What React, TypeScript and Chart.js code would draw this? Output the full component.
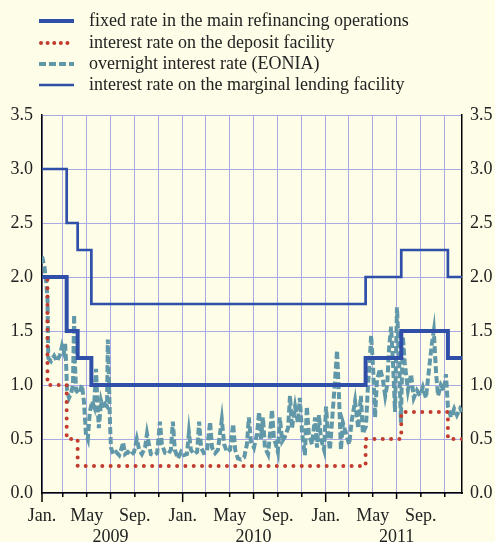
import React, { useEffect, useRef } from 'react';
import { Chart, registerables } from 'chart.js';

Chart.register(...registerables);

// ---- data (x values are days since 2009-01-01) ----
const mroDays = [6, 69, 97, 132, 832, 923, 1042, 1078];
const mroValues = [2.0, 1.5, 1.25, 1.0, 1.25, 1.5, 1.25, 1.25];

const depositDays = [6, 20, 69, 97, 832, 923, 1042, 1078];
const depositValues = [2.0, 1.0, 0.5, 0.25, 0.5, 0.75, 0.5, 0.5];

const mlfDays = [6, 69, 97, 132, 832, 923, 1042, 1078];
const mlfValues = [3.0, 2.5, 2.25, 1.75, 2.0, 2.25, 2.0, 2.0];

const eoniaDays = [
  6, 12, 17, 20, 22, 29, 37, 44, 52, 57, 62, 65, 67, 70, 75, 80, 85, 88, 90, 93,
  100, 108, 113, 118, 123, 128, 134, 139, 144, 146, 151, 157, 162, 167, 172, 174, 180, 182, 188, 195,
  203, 208, 213, 218, 225, 233, 241, 248, 254, 261, 269, 274, 279, 284, 292, 300, 307, 312, 320, 328,
  335, 340, 345, 353, 361, 368, 376, 381, 386, 394, 402, 407, 412, 419, 427, 435, 440, 448, 455, 465,
  471, 478, 486, 494, 499, 506, 514, 522, 529, 534, 539, 547, 555, 560, 565, 570, 575, 583, 588, 593,
  598, 603, 608, 613, 619, 626, 634, 639, 644, 652, 659, 664, 670, 677, 682, 687, 695, 703, 708, 713,
  718, 726, 731, 736, 741, 749, 754, 759, 764, 769, 774, 782, 790, 797, 805, 813, 820, 825, 833, 838,
  843, 846, 851, 856, 861, 869, 876, 882, 887, 892, 897, 902, 907, 912, 917, 922, 927, 932, 940, 948,
  955, 963, 971, 978, 986, 994, 1001, 1006, 1012, 1017, 1024, 1032, 1037, 1042, 1050, 1058, 1065, 1073, 1078,
];
const eoniaValues = [
  2.19, 2.1, 1.95, 1.8, 1.25, 1.22, 1.27, 1.22, 1.28, 1.36, 1.3, 1.38, 1.25, 0.95, 0.88, 0.92, 1.0, 1.65, 1.2, 0.95,
  0.92, 1.0, 0.85, 0.55, 0.5, 0.75, 0.85, 0.8, 1.15, 0.95, 0.6, 0.85, 0.78, 0.82, 0.8, 1.42, 0.6, 0.42, 0.36, 0.38,
  0.35, 0.4, 0.47, 0.36, 0.38, 0.35, 0.38, 0.5, 0.4, 0.36, 0.42, 0.55, 0.45, 0.36, 0.35, 0.37, 0.66, 0.45, 0.37, 0.36,
  0.4, 0.66, 0.4, 0.32, 0.38, 0.35, 0.36, 0.56, 0.4, 0.36, 0.38, 0.66, 0.42, 0.37, 0.38, 0.66, 0.42, 0.37, 0.4, 0.68,
  0.45, 0.38, 0.4, 0.64, 0.4, 0.32, 0.31, 0.33, 0.45, 0.7, 0.48, 0.42, 0.55, 0.75, 0.5, 0.7, 0.42, 0.36, 0.55, 0.77,
  0.5, 0.45, 0.38, 0.7, 0.48, 0.52, 0.6, 0.9, 0.6, 0.8, 0.65, 0.88, 0.55, 0.35, 0.8, 0.55, 0.45, 0.7, 0.42, 0.72,
  0.5, 0.4, 0.8, 0.55, 0.4, 0.8, 1.05, 1.32, 0.9, 0.4, 0.65, 0.55, 0.45, 0.68, 0.85, 0.6, 0.9, 0.55, 0.62, 1.0,
  1.25, 1.46, 1.17, 0.7, 1.05, 1.15, 1.05, 0.9, 1.0, 1.35, 1.54, 1.2, 0.75, 1.72, 1.3, 0.65, 1.45, 1.2, 0.95, 1.1,
  0.88, 0.95, 0.9, 0.98, 0.88, 1.15, 1.38, 1.5, 1.1, 0.9, 1.0, 0.95, 1.1, 0.8, 0.7, 0.78, 0.72, 0.78, 0.75,
];

const xTickDays = [6, 59, 120, 181, 243, 304, 365, 424, 485, 546, 608, 669, 730, 789, 850, 911, 973, 1034];
const xTickLabels = ['Jan.', '', 'May', '', 'Sep.', '', 'Jan.', '', 'May', '', 'Sep.', '', 'Jan.', '', 'May', '', 'Sep.', ''];
const yearTickDays = [181, 546, 911];
const yearLabels = ['2009', '2010', '2011'];
const janTickDays = [6, 365, 730];

const seriesLabels = [
  'fixed rate in the main refinancing operations',
  'interest rate on the deposit facility',
  'overnight interest rate (EONIA)',
  'interest rate on the marginal lending facility',
];

const FONT = '"Liberation Serif", "Times New Roman", serif';
const BG = '#fefde8';
const GRID = '#a9a9e6';
const BLUE = '#2f4fa9';
const RED = '#c23b2e';
const TEAL = '#6198a9';
const TEXT = '#222222';

const toPts = (xs: number[], ys: number[]) => xs.map((x, i) => ({ x, y: ys[i] }));

const bgPlugin = {
  id: 'bg',
  beforeDraw(chart: any) {
    const { ctx, width, height } = chart;
    ctx.save();
    ctx.fillStyle = BG;
    ctx.fillRect(0, 0, width, height);
    ctx.restore();
  },
};

const tickPlugin = {
  id: 'tickMarks',
  afterDraw(chart: any) {
    const { ctx } = chart;
    const xs = chart.scales.x;
    const bottom = chart.chartArea.bottom;
    ctx.save();
    ctx.strokeStyle = '#000';
    ctx.lineWidth = 1.5;
    xTickDays.forEach((d) => {
      const px = xs.getPixelForValue(d);
      let len = 4;
      if (janTickDays.includes(d)) len = 9;
      else if (yearTickDays.includes(d)) len = 6;
      ctx.beginPath();
      ctx.moveTo(px, bottom);
      ctx.lineTo(px, bottom + len);
      ctx.stroke();
    });
    ctx.restore();
  },
};

const legendPlugin = {
  id: 'customLegend',
  afterDraw(chart: any) {
    const { ctx } = chart;
    const rows = [21, 43, 64, 85];
    ctx.save();
    chart.data.datasets.forEach((ds: any, i: number) => {
      const y = rows[i];
      ctx.beginPath();
      ctx.strokeStyle = ds.borderColor;
      ctx.lineWidth = ds.borderWidth;
      ctx.lineCap = ds.borderCapStyle || 'butt';
      ctx.setLineDash(i === 1 ? [0.01, 6.6] : ds.borderDash || []);
      ctx.moveTo(i === 1 ? 41 : 39, y);
      ctx.lineTo(74, y);
      ctx.stroke();
      ctx.setLineDash([]);
      ctx.fillStyle = TEXT;
      ctx.font = `18px ${FONT}`;
      ctx.textBaseline = 'middle';
      ctx.textAlign = 'left';
      ctx.fillText(ds.label, 89, y);
    });
    ctx.restore();
  },
};

export default function App() {
  const ref = useRef<HTMLCanvasElement | null>(null);

  useEffect(() => {
    document.body.style.margin = '0';
    document.body.style.background = BG;
    if (!ref.current) return;
    const tickFont = { family: FONT, size: 18 };
    const chart = new Chart(ref.current, {
      type: 'line',
      data: {
        datasets: [
          {
            label: seriesLabels[0],
            data: toPts(mroDays, mroValues),
            borderColor: BLUE,
            borderWidth: 4,
            stepped: 'before',
            pointRadius: 0,
            order: 0,
          },
          {
            label: seriesLabels[1],
            data: toPts(depositDays, depositValues),
            borderColor: RED,
            borderWidth: 4,
            borderCapStyle: 'round',
            borderDash: [0.01, 8.3],
            stepped: 'before',
            pointRadius: 0,
            order: 2,
          },
          {
            label: seriesLabels[2],
            data: toPts(eoniaDays, eoniaValues),
            borderColor: TEAL,
            borderWidth: 4,
            borderDash: [7, 3],
            borderJoinStyle: 'miter',
            pointRadius: 0,
            tension: 0,
            order: 3,
          },
          {
            label: seriesLabels[3],
            data: toPts(mlfDays, mlfValues),
            borderColor: BLUE,
            borderWidth: 2.7,
            stepped: 'before',
            pointRadius: 0,
            order: 1,
          },
        ],
      } as any,
      options: {
        animation: false,
        responsive: true,
        maintainAspectRatio: false,
        layout: { padding: { top: 115, left: 0, right: 0, bottom: 0 } },
        plugins: { legend: { display: false }, tooltip: { enabled: false } },
        scales: {
          x: {
            type: 'linear',
            min: 6,
            max: 1078,
            afterBuildTicks: (scale: any) => {
              scale.ticks = xTickDays.map((v) => ({ value: v }));
            },
            afterFit: (scale: any) => {
              scale.height = 49;
            },
            ticks: {
              autoSkip: false,
              maxRotation: 0,
              minRotation: 0,
              padding: 12,
              color: TEXT,
              font: tickFont,
              callback: (v: any) => {
                const idx = xTickDays.indexOf(v);
                const yi = yearTickDays.indexOf(v);
                if (yi >= 0) return ['', yearLabels[yi]];
                return idx >= 0 ? xTickLabels[idx] : '';
              },
            },
            grid: { color: GRID, lineWidth: 1, drawTicks: false },
            border: { display: true, color: '#000', width: 1.5 },
          },
          y: {
            position: 'left',
            min: 0,
            max: 3.5,
            afterFit: (scale: any) => {
              scale.width = 42;
            },
            ticks: {
              stepSize: 0.5,
              padding: 9,
              color: TEXT,
              font: tickFont,
              callback: (v: any) => Number(v).toFixed(1),
            },
            grid: { color: GRID, lineWidth: 1, drawTicks: false },
            border: { display: true, color: '#000', width: 1.5 },
          },
          y2: {
            position: 'right',
            min: 0,
            max: 3.5,
            afterFit: (scale: any) => {
              scale.width = 33;
            },
            ticks: {
              stepSize: 0.5,
              padding: 8,
              color: TEXT,
              font: tickFont,
              callback: (v: any) => Number(v).toFixed(1),
            },
            grid: { display: false, drawTicks: false },
            border: { display: true, color: '#000', width: 1.5 },
          },
        },
      } as any,
      plugins: [bgPlugin, tickPlugin, legendPlugin],
    });
    return () => chart.destroy();
  }, []);

  return (
    <div style={{ width: 495, height: 542, position: 'relative', background: BG }}>
      <canvas ref={ref} />
    </div>
  );
}
